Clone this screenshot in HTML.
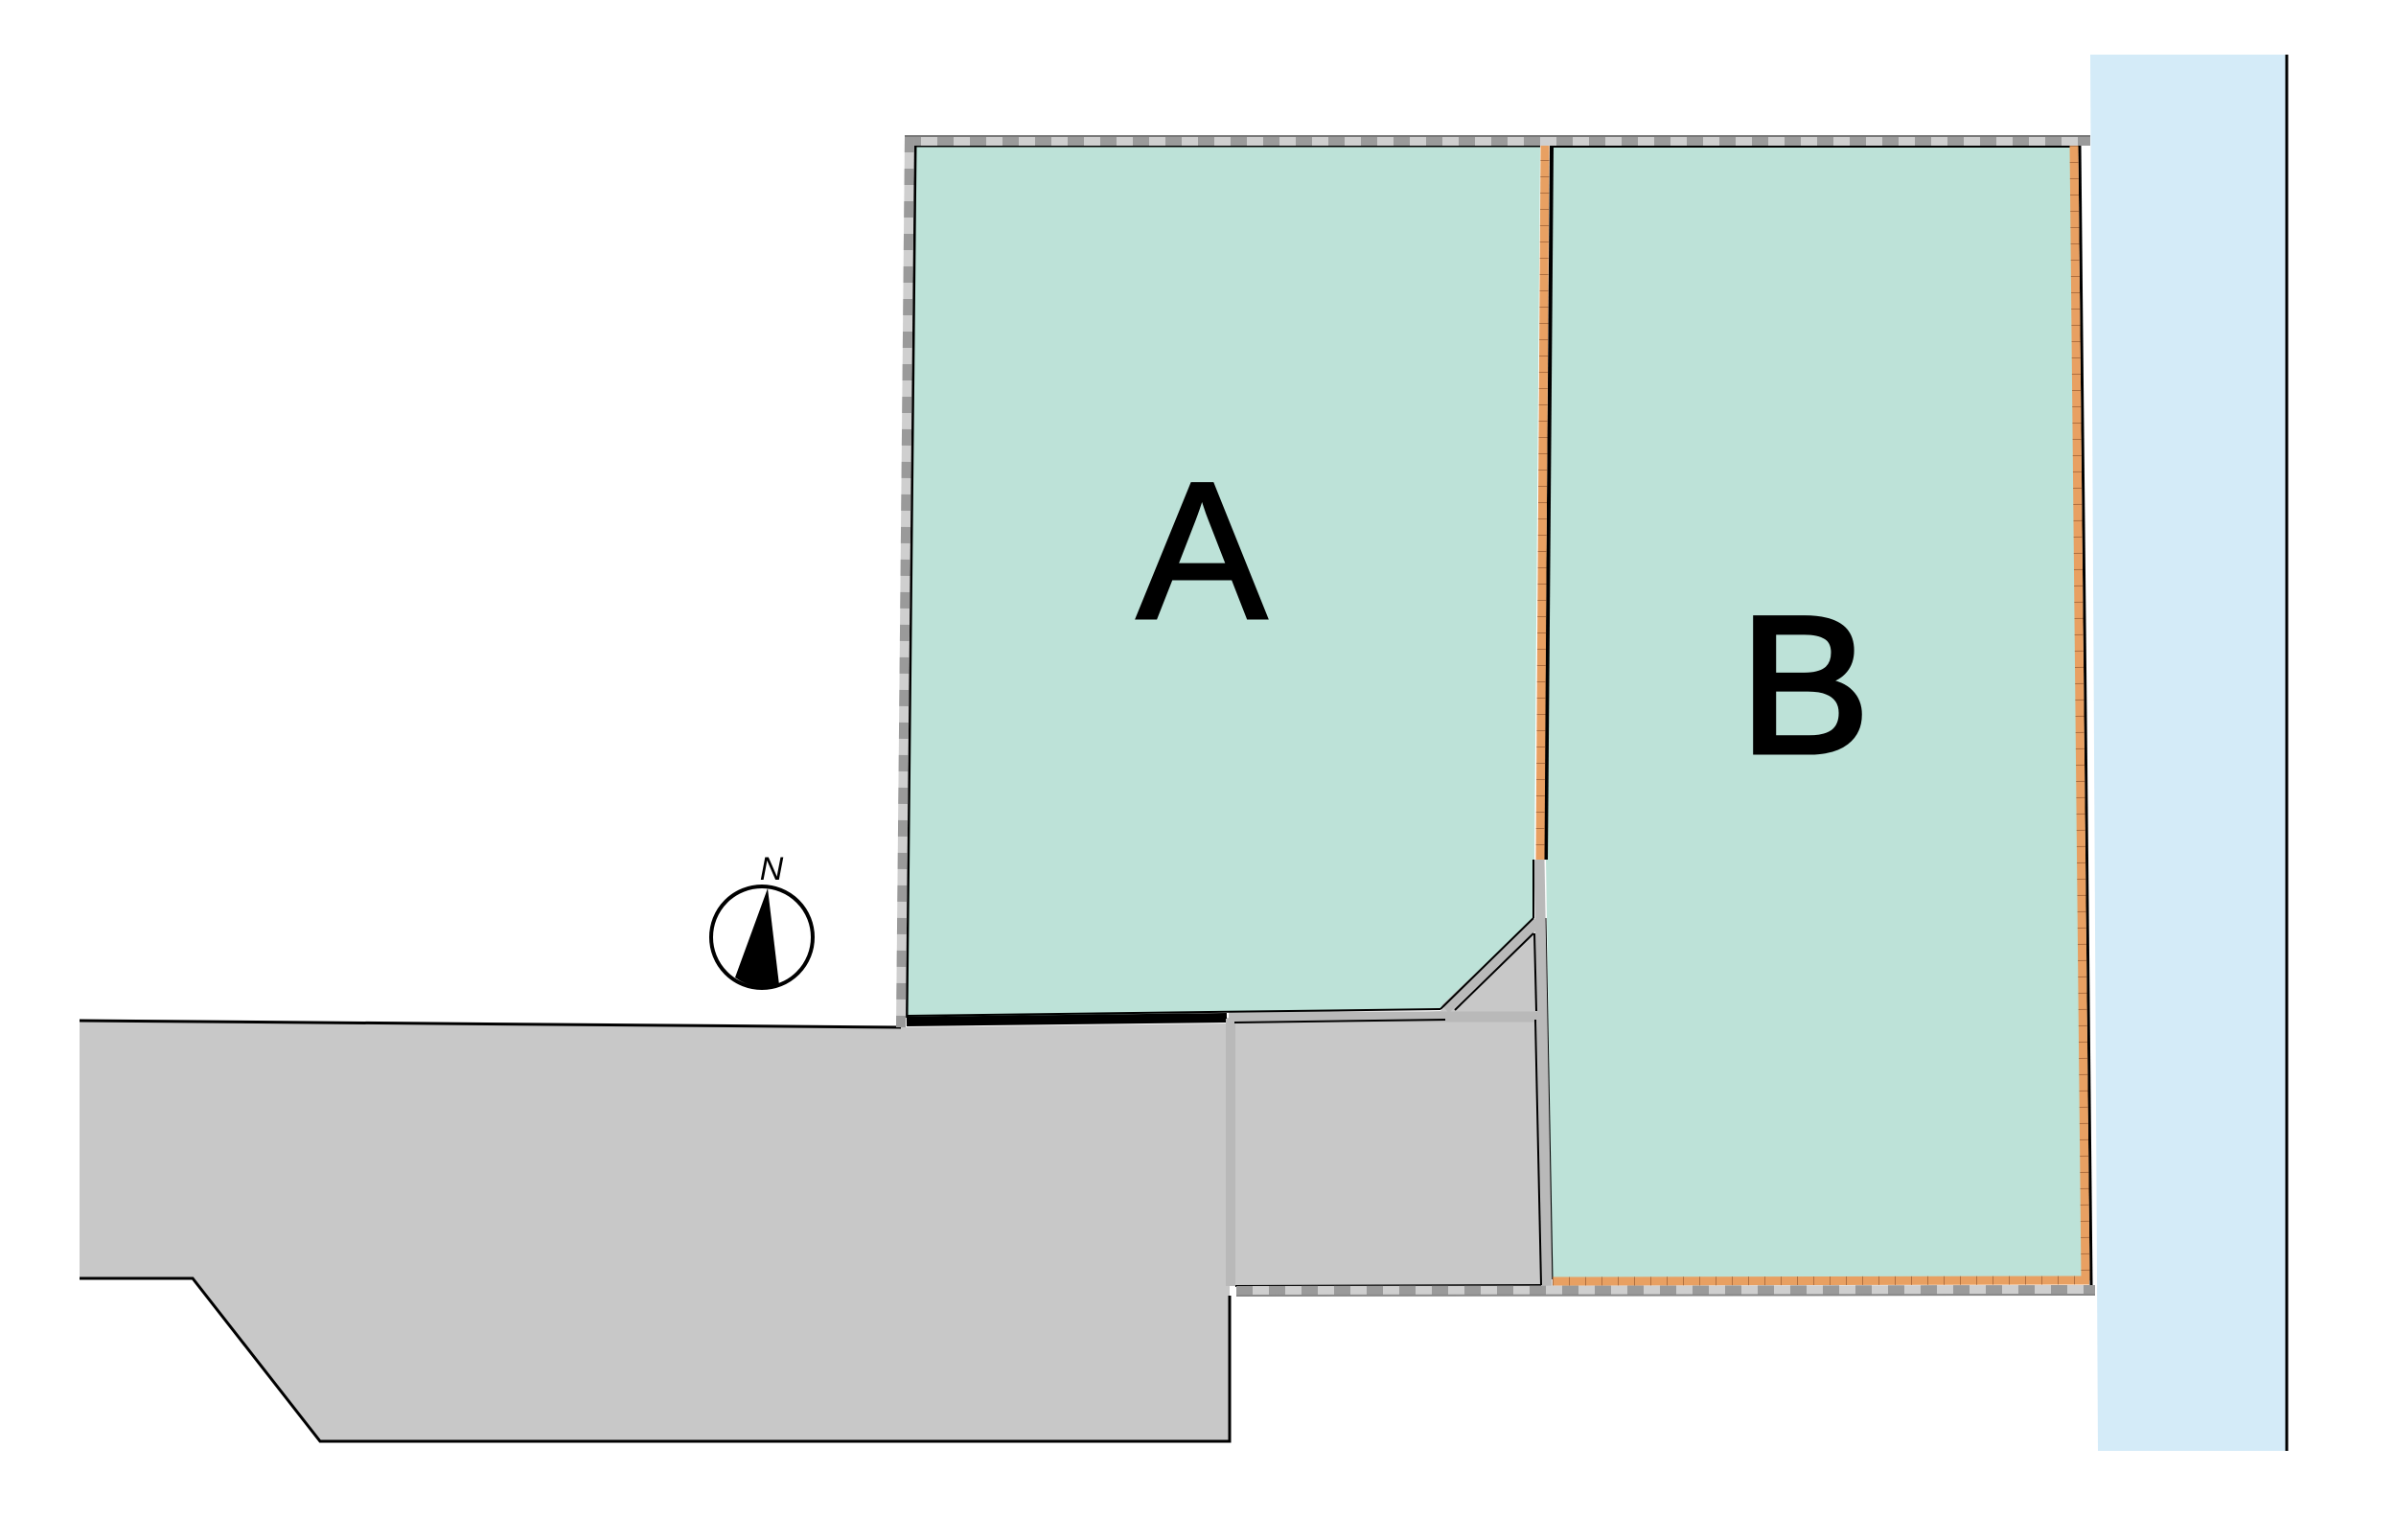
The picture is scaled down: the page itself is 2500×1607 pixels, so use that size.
<!DOCTYPE html>
<html><head><meta charset="utf-8"><style>html,body{margin:0;padding:0;background:#fff}svg{display:block}</style></head>
<body>
<svg xmlns="http://www.w3.org/2000/svg" width="2500" height="1607" viewBox="0 0 2500 1607">
<!-- river -->
<polygon points="2181,57 2386,57 2386,1514 2189,1514" fill="#d4ebf8"/>
<line x1="2386" y1="57" x2="2386" y2="1514" stroke="#000" stroke-width="3"/>
<!-- road -->
<polygon points="83,1065 940,1072 1283,1068 1283,1504 334,1504 201,1334 83,1334" fill="#c8c8c8"/>
<polyline points="83,1065 940,1072" fill="none" stroke="#000" stroke-width="3"/>
<polyline points="83,1334 201,1334 334,1504 1283,1504 1283,1352" fill="none" stroke="#000" stroke-width="3"/>
<!-- driveway -->
<polygon points="1280,1062 1503,1055 1601,958 1612,1342 1280,1342" fill="#c8c8c8"/>
<!-- lot A -->
<polygon points="955,152 1607,152 1601,897 1601,958 1503,1053 946,1062" fill="#bde2d8"/>
<polyline points="946,1062 955,152 1607,152" fill="none" stroke="#000" stroke-width="3"/>
<line x1="946" y1="1066" x2="1280" y2="1062" stroke="#000" stroke-width="10"/>
<!-- lot B -->
<polygon points="1620,152 2168,152 2180,1335 1620,1335 1613,897" fill="#bde2d8"/>
<line x1="1617" y1="152" x2="2168" y2="152" stroke="#000" stroke-width="4"/>
<line x1="1619" y1="152" x2="1613" y2="897" stroke="#000" stroke-width="4"/>
<line x1="1612" y1="958" x2="1619" y2="1335" stroke="#000" stroke-width="3"/>
<line x1="2170" y1="152" x2="2182" y2="1342" stroke="#000" stroke-width="3"/>
<!-- driveway strips -->
<g stroke="#b9b9b9" stroke-linecap="butt">
<line x1="1284" y1="1063" x2="1284" y2="1342" stroke-width="10"/>
<line x1="1282" y1="1061" x2="1606" y2="1061" stroke-width="11"/>
<line x1="1606" y1="897" x2="1614" y2="1342" stroke-width="11"/>
<line x1="1508" y1="1053" x2="1604" y2="962" stroke-width="11"/>
</g>
<line x1="1288" y1="1067" x2="1508" y2="1064" stroke="#000" stroke-width="2"/>
<line x1="1518" y1="1054" x2="1600" y2="974" stroke="#000" stroke-width="2"/>
<line x1="1601" y1="974" x2="1603" y2="1055" stroke="#000" stroke-width="2"/>
<line x1="1602" y1="1064" x2="1608" y2="1341" stroke="#000" stroke-width="2"/>
<line x1="1289" y1="1342" x2="1608" y2="1341" stroke="#000" stroke-width="2"/>
<line x1="1503" y1="1053" x2="1600" y2="958" stroke="#000" stroke-width="2"/>
<line x1="1600" y1="897" x2="1600" y2="958" stroke="#000" stroke-width="2"/>
<line x1="946" y1="1060" x2="1503" y2="1053" stroke="#000" stroke-width="2"/>
<!-- orange borders -->
<g stroke-width="9">
<line x1="1612" y1="150" x2="1607" y2="897" stroke="#e8a062"/>
<line x1="1612" y1="150" x2="1607" y2="897" stroke="#b07040" stroke-dasharray="1 16"/>
<line x1="2164" y1="152" x2="2176" y2="1336" stroke="#e8a062"/>
<line x1="2164" y1="152" x2="2176" y2="1336" stroke="#b07040" stroke-dasharray="1 16"/>
<line x1="1620" y1="1337" x2="2180" y2="1336" stroke="#e8a062"/>
<line x1="1620" y1="1337" x2="2180" y2="1336" stroke="#b07040" stroke-dasharray="1 16"/>
</g>
<!-- hatched borders -->
<g stroke-width="10">
<line x1="944" y1="147" x2="2181" y2="147" stroke="#cfcfcf"/>
<line x1="944" y1="147" x2="2181" y2="147" stroke="#9a9a9a" stroke-dasharray="17 17"/>
<line x1="949" y1="142" x2="940" y2="1072" stroke="#cfcfcf"/>
<line x1="949" y1="142" x2="940" y2="1072" stroke="#9a9a9a" stroke-dasharray="17 17"/>
<line x1="1290" y1="1347" x2="2186" y2="1346" stroke="#cfcfcf"/>
<line x1="1290" y1="1347" x2="2186" y2="1346" stroke="#9a9a9a" stroke-dasharray="17 17"/>
</g>
<line x1="944" y1="142" x2="2181" y2="142" stroke="#777" stroke-width="2"/>
<line x1="1290" y1="1352" x2="2186" y2="1351" stroke="#888" stroke-width="2"/>
<!-- compass -->
<circle cx="795" cy="978" r="53" fill="#fff" stroke="#000" stroke-width="4"/>
<path d="M801,927 L767,1020 A53,53 0 0 0 813,1028 Z" fill="#000"/>
<text x="805" y="918" font-family="Liberation Sans, sans-serif" font-size="34" font-style="italic" text-anchor="middle">N</text>
<!-- labels -->
<text x="1254" y="645" font-family="Liberation Sans, sans-serif" font-size="204" text-anchor="middle" stroke="#000" stroke-width="3">A</text>
<text x="1883" y="785" font-family="Liberation Sans, sans-serif" font-size="204" text-anchor="middle" stroke="#000" stroke-width="5">B</text>
</svg>
</body></html>
